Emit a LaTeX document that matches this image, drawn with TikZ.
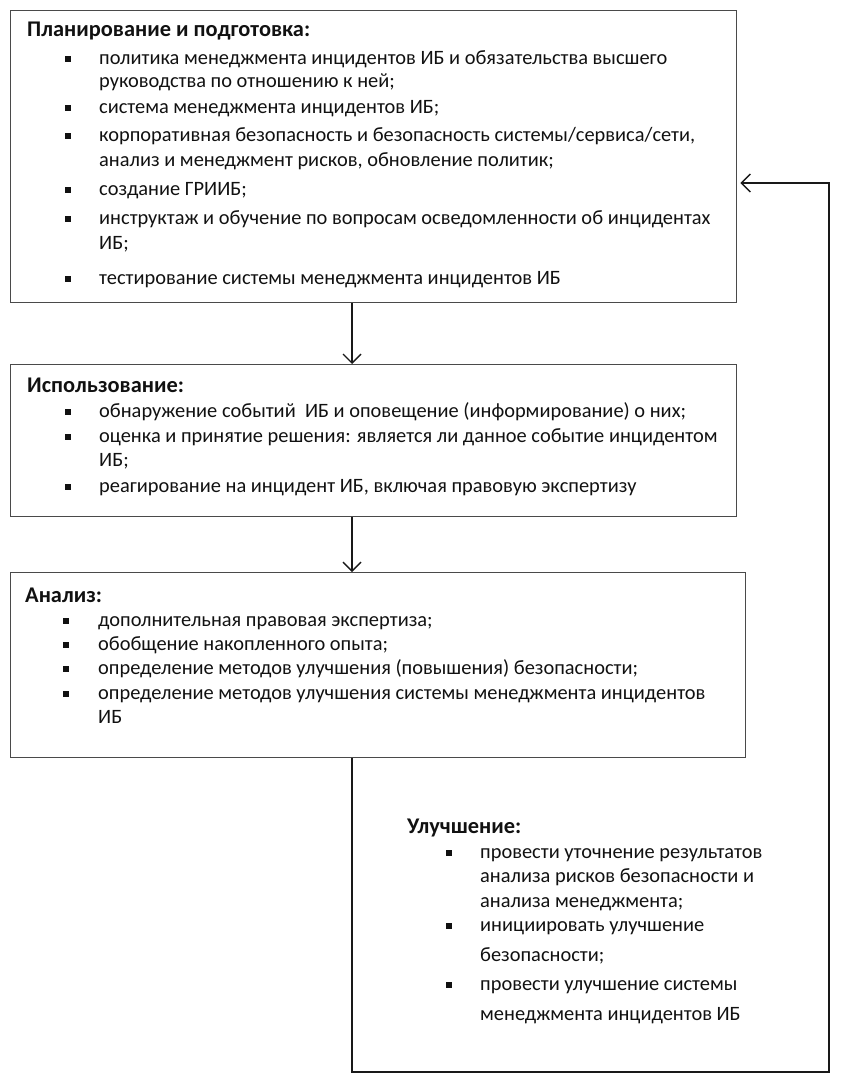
\documentclass[tikz,border=0pt]{standalone}
\usepackage{fontspec}
\setmainfont{Carlito}
\usetikzlibrary{arrows.meta}
\definecolor{boxline}{HTML}{4A4A4A}
\definecolor{ink}{HTML}{111111}
\tikzset{
  box/.style={draw=boxline, line width=1.3pt, anchor=north west, inner sep=0pt},
  ttl/.style={anchor=base west, inner sep=0pt, text=ink, font=\fontsize{22.4}{26}\selectfont\bfseries},
  txt/.style={anchor=base west, inner sep=0pt, text=ink, font=\fontsize{20.4}{24}\selectfont},
  bul/.style={fill=ink, minimum size=6pt, inner sep=0pt, outer sep=0pt},
  conn/.style={draw=black!90, line width=1.4pt},
  arr/.style={conn, -{Straight Barb[length=9pt,width=18pt,line width=1.4pt]}}
}
\begin{document}
\begin{tikzpicture}[x=1pt,y=-1pt]
\useasboundingbox (0,0) rectangle (844,1081);
% boxes
\node[box, minimum width=726pt, minimum height=292pt] (b1) at (10,10) {};
\node[box, minimum width=726pt, minimum height=152pt] (b2) at (10,364) {};
\node[box, minimum width=735pt, minimum height=185pt] (b3) at (10,572) {};
% helper coordinates
\coordinate (ax) at (352,0);
\coordinate (rx) at (829,0);
\coordinate (bot) at (0,1072);
\coordinate (fb) at (0,183);
% connectors
\draw[arr] (b1.south -| ax) -- (b2.north -| ax);
\draw[arr] (b2.south -| ax) -- (b3.north -| ax);
\draw[arr] (b3.south -| ax) -- (ax |- bot) -- (rx |- bot) -- (rx |- fb) -- ([xshift=3pt]b1.east |- fb);
% box 1
\node[ttl] (t1) at (27,37) {Планирование и подготовка:};
\node[bul] (p1) at (68,59) {};
\node[txt] (l11) at (99,64) {политика менеджмента инцидентов ИБ и обязательства высшего};
\node[txt] (l12) at (99,88) {руководства по отношению к ней;};
\node[bul] (p2) at (68,108) {};
\node[txt] (l13) at (99,113) {система менеджмента инцидентов ИБ;};
\node[bul] (p3) at (68,136) {};
\node[txt] (l14) at (99,141) {корпоративная безопасность и безопасность системы/сервиса/сети,};
\node[txt] (l15) at (99,166) {анализ и менеджмент рисков, обновление политик;};
\node[bul] (p4) at (68,190) {};
\node[txt] (l16) at (99,195) {создание ГРИИБ;};
\node[bul] (p5) at (68,219) {};
\node[txt] (l17) at (99,224) {инструктаж и обучение по вопросам осведомленности об инцидентах};
\node[txt] (l18) at (99,249) {ИБ;};
\node[bul] (p6) at (68,279) {};
\node[txt] (l19) at (99,284) {тестирование системы менеджмента инцидентов ИБ};
% box 2
\node[ttl] (t2) at (27,392) {Использование:};
\node[bul] (q1) at (68,412) {};
\node[txt] (l21) at (99,417) {обнаружение событий\ \ ИБ и оповещение (информирование) о них;};
\node[bul] (q2) at (68,437) {};
\node[txt] (l22) at (99,442) {оценка и принятие решения: является ли данное событие инцидентом};
\node[txt] (l23) at (99,466) {ИБ;};
\node[bul] (q3) at (68,487) {};
\node[txt] (l24) at (99,492) {реагирование на инцидент ИБ, включая правовую экспертизу};
% box 3
\node[ttl] (t3) at (25,602) {Анализ:};
\node[bul] (r1) at (66,621) {};
\node[txt] (l31) at (98,626) {дополнительная правовая экспертиза;};
\node[bul] (r2) at (66,645) {};
\node[txt] (l32) at (98,650) {обобщение накопленного опыта;};
\node[bul] (r3) at (66,669) {};
\node[txt] (l33) at (98,674) {определение методов улучшения (повышения) безопасности;};
\node[bul] (r4) at (66,694) {};
\node[txt] (l34) at (98,699) {определение методов улучшения системы менеджмента инцидентов};
\node[txt] (l35) at (98,723) {ИБ};
% improvement
\node[ttl] (t4) at (407,833) {Улучшение:};
\node[bul] (s1) at (449,853) {};
\node[txt] (l41) at (480,858) {провести уточнение результатов};
\node[txt] (l42) at (480,882) {анализа рисков безопасности и};
\node[txt] (l43) at (480,907) {анализа менеджмента;};
\node[bul] (s2) at (449,926) {};
\node[txt] (l44) at (480,931) {инициировать улучшение};
\node[txt] (l45) at (480,961) {безопасности;};
\node[bul] (s3) at (449,985) {};
\node[txt] (l46) at (480,990) {провести улучшение системы};
\node[txt] (l47) at (480,1020) {менеджмента инцидентов ИБ};
\end{tikzpicture}
\end{document}
